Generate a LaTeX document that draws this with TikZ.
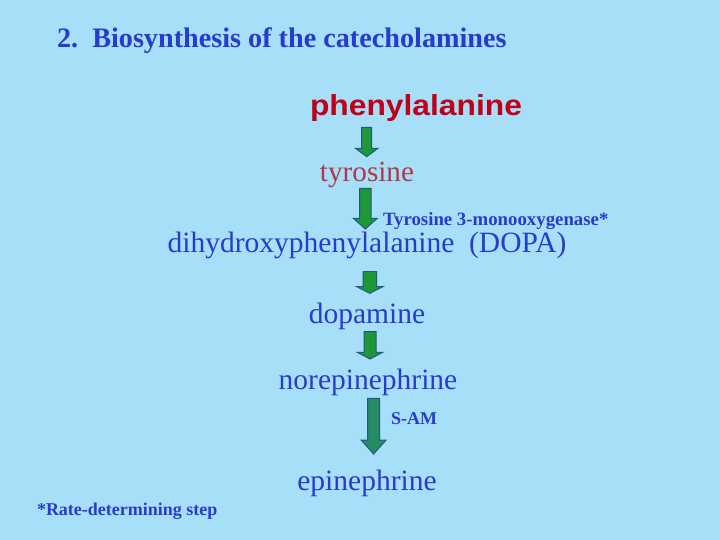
\documentclass[tikz,border=0pt]{standalone}
\usepackage{fontspec}
\setmainfont{Liberation Serif}
\newfontfamily\arialfont{Liberation Sans}
\definecolor{bgblue}{RGB}{166,223,247}
\definecolor{txtblue}{RGB}{42,58,204}
\definecolor{darkred}{RGB}{192,0,24}
\definecolor{rosered}{RGB}{176,56,72}
\definecolor{arrgreen}{RGB}{30,152,52}
\definecolor{arrteal}{RGB}{38,140,100}
\definecolor{arredge}{RGB}{30,90,130}
\tikzset{
  lbl/.style={inner sep=0pt, outer sep=0pt, anchor=base},
  lblw/.style={inner sep=0pt, outer sep=0pt, anchor=base west},
  body/.style={lbl, text=txtblue, font=\fontsize{29.5bp}{32bp}\selectfont},
  small/.style={lblw, text=txtblue, font=\fontsize{18bp}{20bp}\selectfont\bfseries},
  fatarr/.style={fill=arrgreen, draw=arredge, line width=1bp, line join=miter},
}
% #2 x, #3 top y, #4 head y, #5 tip y, #6 half shaft, #7 half head
\newcommand\fatarrow[7][]{%
  \filldraw[fatarr,#1] (#2-#6,#3) -- (#2+#6,#3) -- (#2+#6,#4) -- (#2+#7,#4) -- (#2,#5) -- (#2-#7,#4) -- (#2-#6,#4) -- cycle;}
\begin{document}
\begin{tikzpicture}[x=1bp,y=-1bp]
\fill[bgblue] (0,0) rectangle (720,540);
\useasboundingbox (0,0) rectangle (720,540);

\node[lblw, text=txtblue, font=\fontsize{28.2bp}{30bp}\selectfont\bfseries] (title) at (57,48) {2.\ \ Biosynthesis of the catecholamines};

\node[lbl, text=darkred] (phe) at (416,116) {\scalebox{1.1}[1]{\arialfont\bfseries\fontsize{28.9bp}{30bp}\selectfont phenylalanine}};
\node[lbl, text=rosered, font=\fontsize{29.2bp}{32bp}\selectfont] (tyr) at (367,182) {tyrosine};
\node[small, font=\fontsize{18.8bp}{20bp}\selectfont\bfseries] (enz) at (383,226) {Tyrosine 3-monooxygenase*};
\node[body] (dopa) at (367,253) {dihydroxyphenylalanine\ \ (DOPA)};
\node[body] (dopamine) at (367,323) {dopamine};
\node[body] (nor) at (368,389) {norepinephrine};
\node[small] (sam) at (391,424) {S-AM};
\node[body] (epi) at (367,490) {epinephrine};
\node[small] (note) at (37,515) {*Rate-determining step};

% arrows between the compounds
\fatarrow{366.7}{127.3}{148.3}{156.7}{5}{11.3}
\fatarrow{365.3}{188.3}{218.3}{229}{5.8}{12}
\fatarrow{369.8}{271.7}{286.7}{293.3}{6.7}{13}
\fatarrow{370}{331.7}{352.3}{359}{6}{12.7}
\fatarrow[fill=arrteal]{373.6}{398.3}{440}{454}{6}{12.5}
\end{tikzpicture}
\end{document}
